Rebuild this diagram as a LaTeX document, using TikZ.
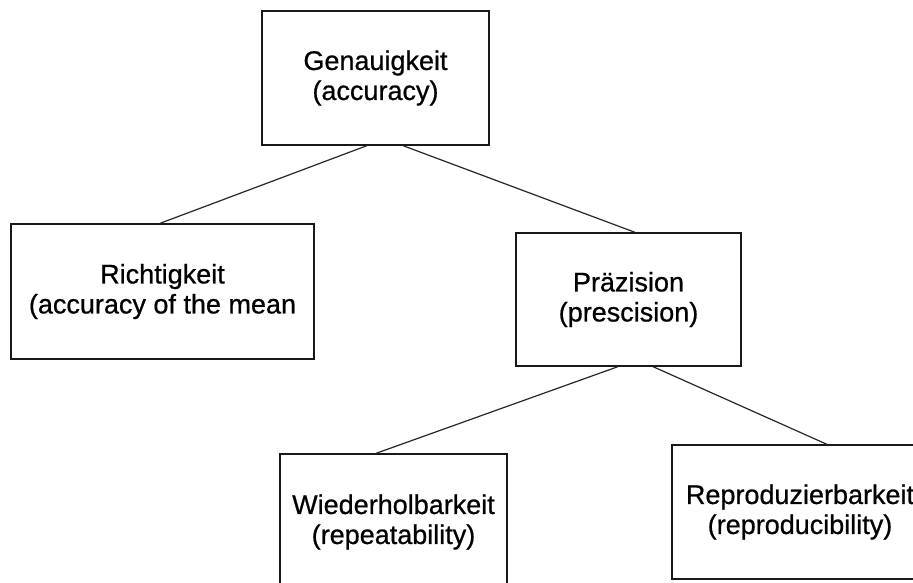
\documentclass[tikz,border=0pt]{standalone}
\usepackage{fontspec}
\setmainfont{Liberation Sans}
\newfontfamily\boxfont{Liberation Sans}[FakeBold=0.7]
\begin{document}
\begin{tikzpicture}[x=1pt,y=-1pt,
  box/.style={draw=black!90,line width=1.3pt,rectangle,inner sep=0pt,align=center,
    font=\boxfont\fontsize{27}{30}\selectfont},
  conn/.style={draw=black!85,line width=1.2pt}]
\useasboundingbox (0,0) rectangle (913,583);
\fill[white] (0,0) rectangle (913,583);
\clip (0,0) rectangle (913,583);
\node[box,minimum width=227pt,minimum height=134pt] (G) at (375.5,78) {Genauigkeit\\(accuracy)};
\node[box,minimum width=303pt,minimum height=135pt] (R) at (162.5,291.5) {Richtigkeit\\(accuracy of the mean};
\node[box,minimum width=225pt,minimum height=133pt] (P) at (628.5,299.5) {Präzision\\(prescision)};
\node[box,minimum width=227pt,minimum height=136pt] (W) at (393.5,522) {Wiederholbarkeit\\(repeatability)};
\node[box,minimum width=256pt,minimum height=134pt] (Rp) at (800,512) {Reproduzierbarkeit\\(reproducibility)};
\draw[conn] ([xshift=-8.5pt]G.south) -- ([xshift=-2.5pt]R.north);
\draw[conn] ([xshift=27.5pt]G.south) -- ([xshift=6.5pt]P.north);
\draw[conn] ([xshift=-10.5pt]P.south) -- ([xshift=-17.5pt]W.north);
\draw[conn] ([xshift=24.5pt]P.south) -- ([xshift=27pt]Rp.north);
\end{tikzpicture}
\end{document}
